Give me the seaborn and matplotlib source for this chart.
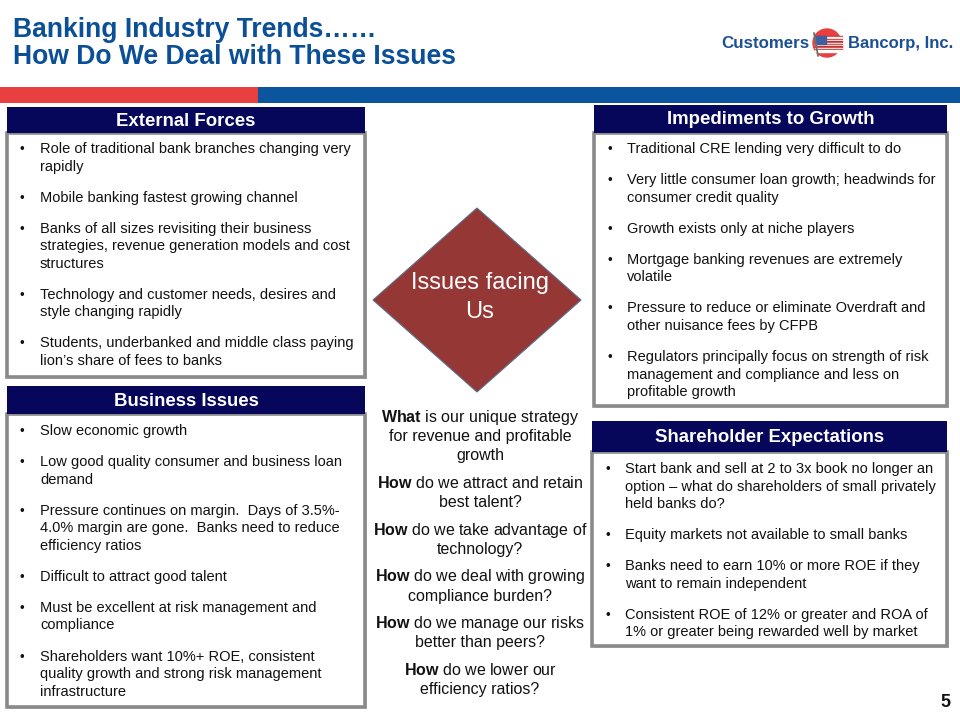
import matplotlib
matplotlib.use("Agg")
import matplotlib.pyplot as plt
import seaborn as sns
from matplotlib.patches import Rectangle, Polygon, Circle

# ---- slide text ----
title_lines = ["Banking Industry Trends……", "How Do We Deal with These Issues"]

external_forces = [
    ["Role of traditional bank branches changing very", "rapidly"],
    ["Mobile banking fastest growing channel"],
    ["Banks of all sizes revisiting their business",
     "strategies, revenue generation models and cost", "structures"],
    ["Technology and customer needs, desires and", "style changing rapidly"],
    ["Students, underbanked and middle class paying",
     "lion’s share of fees to banks"],
]

business_issues = [
    ["Slow economic growth"],
    ["Low good quality consumer and business loan", "demand"],
    ["Pressure continues on margin.  Days of 3.5%-",
     "4.0% margin are gone.  Banks need to reduce", "efficiency ratios"],
    ["Difficult to attract good talent"],
    ["Must be excellent at risk management and", "compliance"],
    ["Shareholders want 10%+ ROE, consistent",
     "quality growth and strong risk management", "infrastructure"],
]

impediments = [
    ["Traditional CRE lending very difficult to do"],
    ["Very little consumer loan growth; headwinds for",
     "consumer credit quality"],
    ["Growth exists only at niche players"],
    ["Mortgage banking revenues are extremely", "volatile"],
    ["Pressure to reduce or eliminate Overdraft and",
     "other nuisance fees by CFPB"],
    ["Regulators principally focus on strength of risk",
     "management and compliance and less on", "profitable growth"],
]

shareholder = [
    ["Start bank and sell at 2 to 3x book no longer an",
     "option – what do shareholders of small privately", "held banks do?"],
    ["Equity markets not available to small banks"],
    ["Banks need to earn 10% or more ROE if they",
     "want to remain independent"],
    ["Consistent ROE of 12% or greater and ROA of",
     "1% or greater being rewarded well by market"],
]

questions = [
    ("What", [" is our unique strategy", "for revenue and profitable", "growth"]),
    ("How", [" do we attract and retain", "best talent?"]),
    ("How", [" do we take advantage of", "technology?"]),
    ("How", [" do we deal with growing", "compliance burden?"]),
    ("How", [" do we manage our risks", "better than peers?"]),
    ("How", [" do we lower our", "efficiency ratios?"]),
]

# ---- style ----
sns.set_theme(style="white")
plt.rcParams['font.family'] = ['Liberation Sans', 'DejaVu Sans']
plt.rcParams['mathtext.fontset'] = 'custom'
plt.rcParams['mathtext.rm'] = 'Liberation Sans'
plt.rcParams['mathtext.bf'] = 'Liberation Sans:bold'

TITLE_BLUE = "#0b4f97"
NAVY = "#06065a"
RED = "#e8403f"
BAR_BLUE = "#0b559e"
GRAY = "#8a8a8a"
DIAMOND = "#953735"
BODY = 10.5

fig = plt.figure(figsize=(9.6, 7.2), dpi=100)
ax = fig.add_axes([0, 0, 1, 1])
ax.set_xlim(0, 960)
ax.set_ylim(720, 0)
ax.axis("off")

# title
ax.text(13, 37, title_lines[0], color=TITLE_BLUE, fontsize=19.1, fontweight="bold", va="baseline")
ax.text(13, 63.5, title_lines[1], color=TITLE_BLUE, fontsize=19.1, fontweight="bold", va="baseline")

# logo: wordmark with a small flag on a red disc
ax.text(809, 48, "Customers", color="#1c4f93", fontsize=12.2, fontweight="bold", ha="right", va="baseline")
ax.add_patch(Circle((827, 43), 14, color=RED, zorder=2))
for i in range(6):
    ax.add_patch(Rectangle((815, 36 + i * 2.6), 27, 1.3, color="#c4302f", zorder=3))
    ax.add_patch(Rectangle((815, 37.3 + i * 2.6), 27, 1.3, color="white", zorder=3))
ax.add_patch(Rectangle((815, 36), 11, 8, color="#3f5fa0", zorder=4))
ax.plot([814, 818], [33, 56], color="#6f6f6f", lw=1.3, zorder=5)
ax.text(848, 48, "Bancorp, Inc.", color="#1c4f93", fontsize=12, fontweight="bold", ha="left", va="baseline")

# colour bar
ax.add_patch(Rectangle((0, 87), 258, 16, color=RED, lw=0))
ax.add_patch(Rectangle((258, 87), 702, 16, color=BAR_BLUE, lw=0))


def panel(x0, x1, top, head_h, bottom, title, bullets, first_y):
    # shadow
    ax.add_patch(Rectangle((x0 + 2, top + head_h + 2), x1 - x0, bottom - top - head_h,
                           facecolor="#d0d0d0", edgecolor="none", zorder=1))
    ax.add_patch(Rectangle((x0, top + head_h), x1 - x0, bottom - top - head_h,
                           facecolor="white", edgecolor=GRAY, lw=2.6, zorder=2))
    ax.add_patch(Rectangle((x0, top), x1 - x0, head_h, facecolor=NAVY, edgecolor="none", zorder=3))
    ax.text((x0 + x1) / 2, top + head_h / 2 + 1, title, color="white", fontsize=13.4,
            fontweight="bold", ha="center", va="center", zorder=4)
    y = first_y
    for lines in bullets:
        ax.text(x0 + 13, y + 5, "•", fontsize=BODY - 1, color="#111111", va="baseline", zorder=4)
        for line in lines:
            ax.text(x0 + 33, y + 5, line, fontsize=BODY, color="#111111", va="baseline", zorder=4)
            y += 17.5
        y += 13.6


panel(7, 365, 107, 26, 377, "External Forces", external_forces, 148)
panel(7, 365, 386, 28, 707, "Business Issues", business_issues, 430)
panel(594, 947, 105, 28, 406, "Impediments to Growth", impediments, 148)
panel(592, 947, 421, 31, 646, "Shareholder Expectations", shareholder, 468)

# diamond
ax.add_patch(Polygon([(477, 208), (581, 300), (477, 392), (373, 300)], closed=True,
                     facecolor=DIAMOND, edgecolor="#5a6f8c", lw=0.8, zorder=2))
ax.text(480, 283, "Issues facing", color="white", fontsize=17, ha="center", va="center", zorder=3)
ax.text(480, 312, "Us", color="white", fontsize=17, ha="center", va="center", zorder=3)

# questions in centre column
y = 417
for word, lines in questions:
    first = r"$\bf{" + word + "}$" + lines[0]
    ax.text(480, y + 5, first, fontsize=11.5, color="#111111", ha="center", va="baseline")
    y += 19.2
    for line in lines[1:]:
        ax.text(480, y + 5, line, fontsize=11.5, color="#111111", ha="center", va="baseline")
        y += 19.2
    y += 8.3

ax.text(950, 707, "5", fontsize=13, fontweight="bold", ha="right", va="baseline", color="#111111")

fig.savefig("out.png", dpi=100)
